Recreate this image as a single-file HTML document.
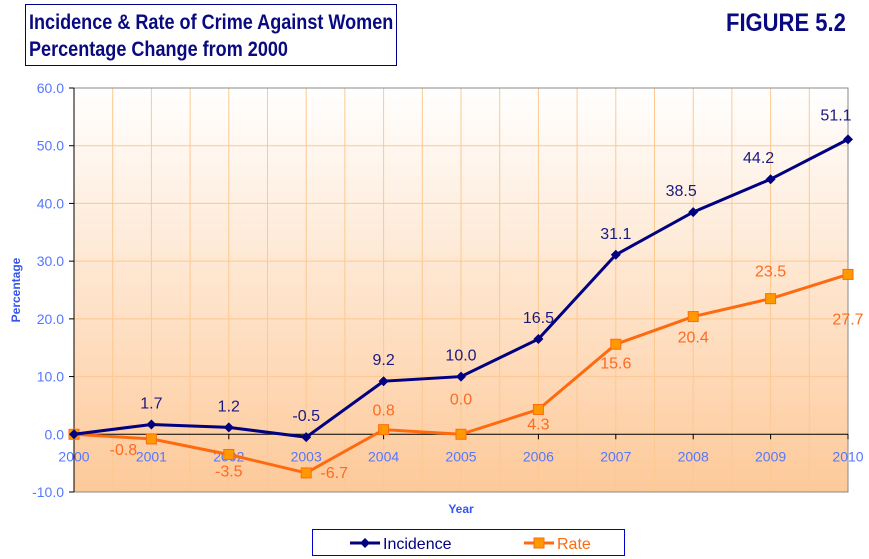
<!DOCTYPE html>
<html><head><meta charset="utf-8"><style>
body{margin:0;background:#fff;width:869px;height:559px;overflow:hidden;font-family:"Liberation Sans",sans-serif}
#title{position:absolute;left:25px;top:4px;width:372px;height:62px;border:1px solid #00008b;box-sizing:border-box;font-weight:bold;color:#0a0a80;font-size:21.5px;line-height:27px;padding:4px 0 0 3px;white-space:nowrap;overflow:hidden}
#title span{display:inline-block;transform:scaleX(0.84);transform-origin:0 0}
#fig{position:absolute;left:726px;top:9px;font-weight:bold;color:#0a0a80;font-size:25px;white-space:nowrap;transform:scaleX(0.88);transform-origin:0 0}
</style></head><body>
<div id="title"><span>Incidence &amp; Rate of Crime Against Women<br>Percentage Change from 2000</span></div>
<div id="fig">FIGURE 5.2</div>
<svg id="chart" width="869" height="559" style="position:absolute;left:0;top:0">
<defs><linearGradient id="bg" x1="0" y1="0" x2="0" y2="1"><stop offset="0" stop-color="#ffffff"/><stop offset="1" stop-color="#fdc999"/></linearGradient></defs>
</svg>
<script>
const years=["2000","2001","2002","2003","2004","2005","2006","2007","2008","2009","2010"];
const incidence=[0,1.7,1.2,-0.5,9.2,10.0,16.5,31.1,38.5,44.2,51.1];
const rate=[0,-0.8,-3.5,-6.7,0.8,0.0,4.3,15.6,20.4,23.5,27.7];
const yTicks=[60,50,40,30,20,10,0,-10];
const ns="http://www.w3.org/2000/svg";
const svg=document.getElementById('chart');
const L=74,R=848,T=88,B=492,yMin=-10,yMax=60;
const X=i=>L+(R-L)*i/(years.length-1);
const Y=v=>B-(v-yMin)/(yMax-yMin)*(B-T);
function mk(t,a,p){const e=document.createElementNS(ns,t);for(const k in a)e.setAttribute(k,a[k]);(p||svg).appendChild(e);return e;}
let bg=mk('rect',{x:L,y:T,width:R-L,height:B-T,fill:'url(#bg)'});


for(let k=0;k<=2*(years.length-1);k++){const x=L+(R-L)*k/(2*(years.length-1));
let g=mk('line',{x1:x,x2:x,y1:T,y2:B,stroke:'#fcc990','stroke-width':1});

}
yTicks.forEach(v=>{let g=mk('line',{x1:L,x2:R,y1:Y(v),y2:Y(v),stroke:'#fcc990'});


let tk=mk('line',{x1:L-5,x2:L,y1:Y(v),y2:Y(v),stroke:'#000'});


let t=mk('text',{x:L-10,y:Y(v)+5,'text-anchor':'end','font-size':14,fill:'#5577ff'});t.textContent=v.toFixed(1);

});
mk('polyline',{points:`${L},${T} ${R},${T} ${R},${B} ${L},${B}`,fill:'none',stroke:'#888'});
mk('line',{x1:L,x2:L,y1:T,y2:B,stroke:'#000'});
mk('line',{x1:L,x2:R,y1:Y(0),y2:Y(0),stroke:'#000'});
years.forEach((y,i)=>{let tk=mk('line',{x1:X(i),x2:X(i),y1:Y(0),y2:Y(0)+5,stroke:'#000'});


let t=mk('text',{x:X(i),y:Y(0)+27,'text-anchor':'middle','font-size':14,fill:'#5577ff'});t.textContent=y;

});
let yt=mk('text',{x:20,y:290,'text-anchor':'middle','font-size':12,'font-weight':'bold',fill:'#3355ee',transform:'rotate(-90 20 290)'});yt.textContent='Percentage';


let xt=mk('text',{x:461,y:513,'text-anchor':'middle','font-size':12,'font-weight':'bold',fill:'#3355ee'});xt.textContent='Year';


// rate series
let rl=mk('polyline',{points:rate.map((v,i)=>X(i)+','+Y(v)).join(' '),fill:'none',stroke:'#ff6a10','stroke-width':3});


const rateLabelDy=[0,16,22,5,-14,-30,20,24,26,-22,50];
const rateLabelDx=[0,-28,0,28,0,0,0,0,0,0,0];
rate.forEach((v,i)=>{let m=mk('rect',{x:X(i)-5,y:Y(v)-5,width:10,height:10,fill:'#ff9900',stroke:'#ff6a10'});


if(i>0){let t=mk('text',{x:X(i)+rateLabelDx[i],y:Y(v)+rateLabelDy[i],'text-anchor':'middle','font-size':16,fill:'#ff6a20'});t.textContent=v.toFixed(1);

}});
// incidence series
let il=mk('polyline',{points:incidence.map((v,i)=>X(i)+','+Y(v)).join(' '),fill:'none',stroke:'#000080','stroke-width':3});


incidence.forEach((v,i)=>{const x=X(i),y=Y(v);
let m=mk('polygon',{points:`${x},${y-5} ${x+5},${y} ${x},${y+5} ${x-5},${y}`,fill:'#000080'});


if(i>0){let t=mk('text',{x:x-(i>=8?12:0),y:y-(i===10?19:16),'text-anchor':'middle','font-size':16,fill:'#1a1a80'});t.textContent=v.toFixed(1);

}});
// legend
let lg=mk('rect',{x:312.5,y:529.5,width:312,height:26,fill:'#fff',stroke:'#0000cc'});


mk('line',{x1:350,x2:380,y1:543,y2:543,stroke:'#000080','stroke-width':3});
mk('polygon',{points:'365,538 370,543 365,548 360,543',fill:'#000080'});
let l1=mk('text',{x:383,y:549,'font-size':16,fill:'#000080'});l1.textContent='Incidence';


mk('line',{x1:524,x2:554,y1:543,y2:543,stroke:'#ff6a10','stroke-width':3});
mk('rect',{x:534,y:538,width:10,height:10,fill:'#ff9900',stroke:'#ff6a10'});
let l2=mk('text',{x:557,y:549,'font-size':16,fill:'#ff6a10'});l2.textContent='Rate';


</script>
</body></html>
